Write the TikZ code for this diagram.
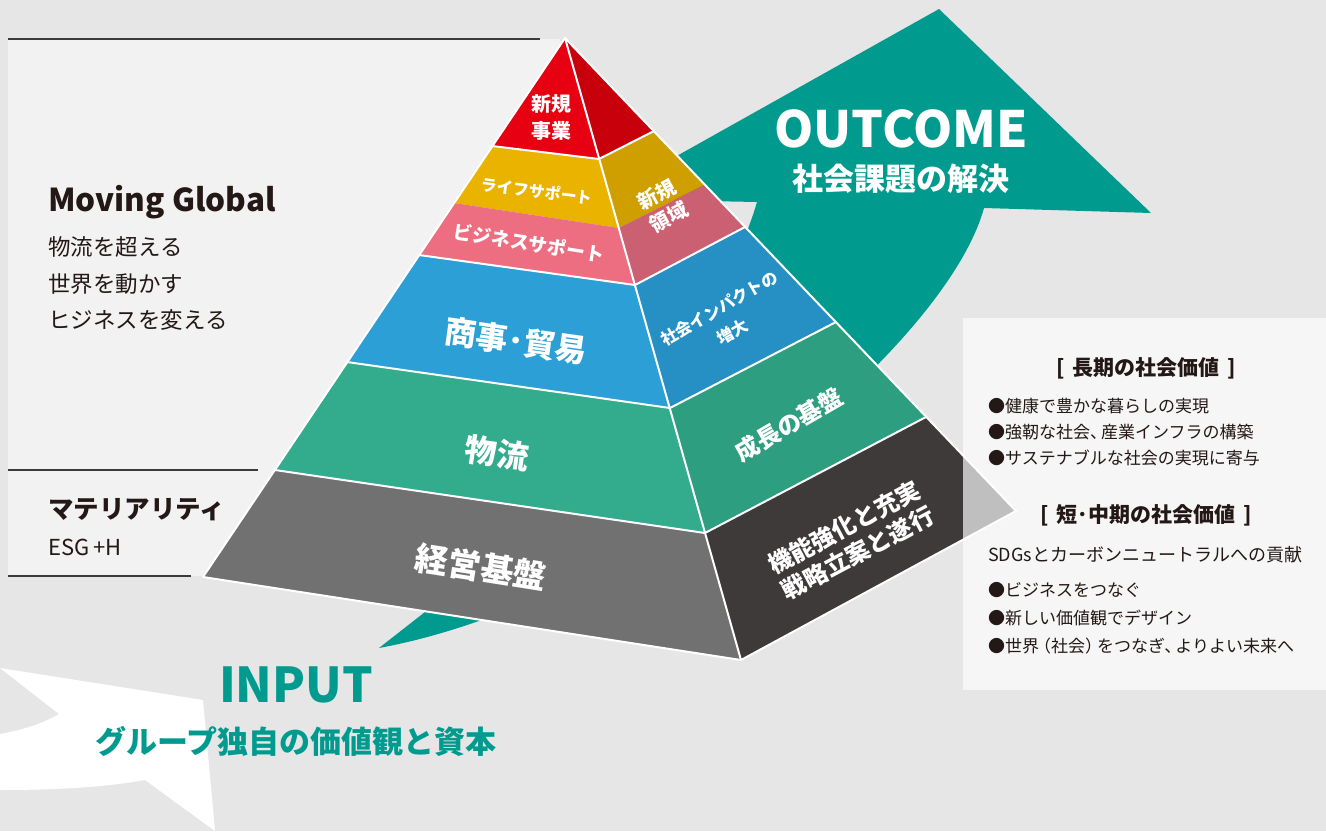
\documentclass[tikz,border=0pt]{standalone}
\usepackage{fontspec}
\newfontfamily\jp{Noto Sans CJK JP}
\newcommand{\myfs}[2]{\fontsize{#1}{#2}\selectfont}
\definecolor{bg}{HTML}{E6E6E6}
\definecolor{panelL}{HTML}{F2F2F2}
\definecolor{linec}{HTML}{3E3A39}
\definecolor{txtdark}{HTML}{231815}
\definecolor{teal}{HTML}{009B8E}
\definecolor{redL}{HTML}{E60012}
\definecolor{redR}{HTML}{C7000B}
\definecolor{yelL}{HTML}{EAB300}
\definecolor{yelR}{HTML}{CF9F00}
\definecolor{pinkL}{HTML}{ED6D81}
\definecolor{pinkR}{HTML}{CB6072}
\definecolor{bluL}{HTML}{2C9FD6}
\definecolor{bluR}{HTML}{2690C5}
\definecolor{grnL}{HTML}{33AB8D}
\definecolor{grnR}{HTML}{2E9E80}
\definecolor{gryL}{HTML}{727171}
\definecolor{gryR}{HTML}{3E3A39}
\begin{document}
\begin{tikzpicture}[x=1pt,y=-1pt,
  lbl/.style={text=white,inner sep=0pt,align=center},
  dtxt/.style={text=txtdark,inner sep=0pt},
  edge/.style={draw=white,line width=2pt,line join=round,line cap=round},
  rule/.style={draw=linec,line width=1.5pt}]
\useasboundingbox (0,0) rectangle (1326,831);
\fill[bg] (0,0) rectangle (1326,831);
% left panel
\fill[panelL] (8,39) rectangle (560,576);
\draw[rule] (8,39) -- (540,39);
\draw[rule] (8,470) -- (258,470);
\draw[rule] (8,576) -- (191,576);
% INPUT white shape
\fill[white] (0,668) -- (203,700) -- (215,831) -- (145,780)
  .. controls (100,788) and (50,790) .. (0,790) -- (0,734)
  .. controls (22,730) and (42,724) .. (59,714) -- cycle;
% OUTCOME teal arrow
\fill[teal] (939,9) -- (1151,213) -- (984,208)
  .. controls (945,350) and (640,600) .. (379,648) -- (425,612)
  .. controls (560,540) and (720,330) .. (757,202) -- (600,199) -- cycle;
% pyramid coordinates
\coordinate (A) at (565,38);
\coordinate (L1) at (492,146); \coordinate (L2) at (454,203);
\coordinate (L3) at (419,255); \coordinate (L4) at (347,362);
\coordinate (L5) at (275,470); \coordinate (L6) at (203,577);
\coordinate (R1) at (599,159); \coordinate (R2) at (619,228);
\coordinate (R3) at (635,285); \coordinate (R4) at (670,408);
\coordinate (R5) at (705,533); \coordinate (R6) at (741,660);
\coordinate (E1) at (654,131); \coordinate (E2) at (704,185);
\coordinate (E3) at (745,227); \coordinate (E4) at (836,322);
\coordinate (E5) at (926,417); \coordinate (E6) at (1016,511);
% left faces
\fill[redL] (A) -- (L1) -- (R1) -- cycle;
\fill[yelL] (L1) -- (L2) -- (R2) -- (R1) -- cycle;
\fill[pinkL] (L2) -- (L3) -- (R3) -- (R2) -- cycle;
\fill[bluL] (L3) -- (L4) -- (R4) -- (R3) -- cycle;
\fill[grnL] (L4) -- (L5) -- (R5) -- (R4) -- cycle;
\fill[gryL] (L5) -- (L6) -- (R6) -- (R5) -- cycle;
% right faces
\fill[redR] (A) -- (R1) -- (E1) -- cycle;
\fill[yelR] (R1) -- (R2) -- (E2) -- (E1) -- cycle;
\fill[pinkR] (R2) -- (R3) -- (E3) -- (E2) -- cycle;
\fill[bluR] (R3) -- (R4) -- (E4) -- (E3) -- cycle;
\fill[grnR] (R4) -- (R5) -- (E5) -- (E4) -- cycle;
\fill[gryR] (R5) -- (R6) -- (E6) -- (E5) -- cycle;
% white edges
\draw[edge] (A) -- (L6) -- (R6) -- (E6) -- cycle;
\draw[edge] (A) -- (R6);
\draw[edge] (L1) -- (R1) -- (E1);
\draw[edge] (L3) -- (R3) -- (E3);
\draw[edge] (L4) -- (R4) -- (E4);
\draw[edge] (L5) -- (R5) -- (E5);
% pyramid labels, left face
\node[lbl,font=\jp\bfseries\myfs{20}{27}] (shinki) at (551,118) {新規\\事業};
\node[lbl,rotate=-7,font=\jp\bfseries\myfs{16}{16}] (life) at (537,191) {ライフサポート};
\node[lbl,rotate=-9,font=\jp\bfseries\myfs{19}{19}] (biz) at (529,243) {ビジネスサポート};
\node[lbl,rotate=-8,font=\jp\bfseries\myfs{32}{32}] (shoji) at (516,341) {商事･貿易};
\node[lbl,rotate=-8,font=\jp\bfseries\myfs{32}{32}] (butsu) at (497,453) {物流};
\node[lbl,rotate=-9,font=\jp\bfseries\myfs{33}{33}] (keiei) at (481,567) {経営基盤};
% right face labels
\node[lbl,rotate=28,font=\jp\bfseries\myfs{20}{25}] (ryoiki) at (663,206) {新規\\領域};
\node[lbl,rotate=30,font=\jp\bfseries\myfs{16.5}{27}] (impact) at (726,320) {社会インパクトの\\増大};
\node[lbl,rotate=30,font=\jp\bfseries\myfs{24}{24}] (seicho) at (789,425) {成長の基盤};
\node[lbl,rotate=28,font=\jp\bfseries\myfs{24}{29}] (kino) at (851,540) {機能強化と充実\\戦略立案と遂行};
% OUTCOME / INPUT
\node[lbl,font=\jp\bfseries\myfs{50}{50}] (outcome) at (901,129) {OUTCOME};
\node[lbl,font=\jp\bfseries\myfs{31}{31}] (kadai) at (901,179) {社会課題の解決};
\node[inner sep=0pt,text=teal,font=\jp\bfseries\myfs{48}{48}] (input) at (296,685) {INPUT};
\node[inner sep=0pt,text=teal,font=\jp\bfseries\myfs{31}{31}] (shihon) at (296,741) {グループ独自の価値観と資本};
% left panel text
\node[dtxt,anchor=base west,font=\jp\bfseries\myfs{31.5}{31.5}] (mg) at (48,211) {Moving Global};
\node[dtxt,anchor=west,font=\jp\myfs{22.5}{22.5}] (m1) at (48,247) {物流を超える};
\node[dtxt,anchor=west,font=\jp\myfs{22.5}{22.5}] (m2) at (48,284) {世界を動かす};
\node[dtxt,anchor=west,font=\jp\myfs{22.5}{22.5}] (m3) at (48,320) {ヒジネスを変える};
\node[dtxt,anchor=west,font=\jp\bfseries\myfs{25.5}{25.5}] (mat) at (48,510) {マテリアリティ};
\node[dtxt,anchor=base west,font=\jp\myfs{22}{22}] (esg) at (48,555) {ESG\hspace{4pt}+H};
% right panel
\fill[white,opacity=0.68] (963,318) rectangle (1326,690);
\node[dtxt,font=\jp\bfseries\myfs{21}{21}] (h1) at (1146,368) {[\hspace{8pt}長期の社会価値\hspace{8pt}]};
\node[dtxt,anchor=west,font=\jp\myfs{17}{17}] (b1) at (988,406) {●健康で豊かな暮らしの実現};
\node[dtxt,anchor=west,font=\jp\myfs{17}{17}] (b2) at (988,432) {●強靭な社会、\hspace{-6pt}産業インフラの構築};
\node[dtxt,anchor=west,font=\jp\myfs{17}{17}] (b3) at (988,458) {●サステナブルな社会の実現に寄与};
\node[dtxt,font=\jp\bfseries\myfs{21}{21}] (h2) at (1146,515) {[\hspace{8pt}短･中期の社会価値\hspace{8pt}]};
\node[dtxt,anchor=west,font=\jp\myfs{18}{18}] (sdg) at (988,555) {SDGsとカーボンニュートラルへの貢献};
\node[dtxt,anchor=west,font=\jp\myfs{17}{17}] (b4) at (988,590) {●ビジネスをつなぐ};
\node[dtxt,anchor=west,font=\jp\myfs{17}{17}] (b5) at (988,618) {●新しい価値観でデザイン};
\node[dtxt,anchor=west,font=\jp\myfs{17}{17}] (b6) at (988,646) {●世界\hspace{-5pt}（社会）\hspace{-5pt}をつなぎ、\hspace{-6pt}よりよい未来へ};
\end{tikzpicture}
\end{document}
